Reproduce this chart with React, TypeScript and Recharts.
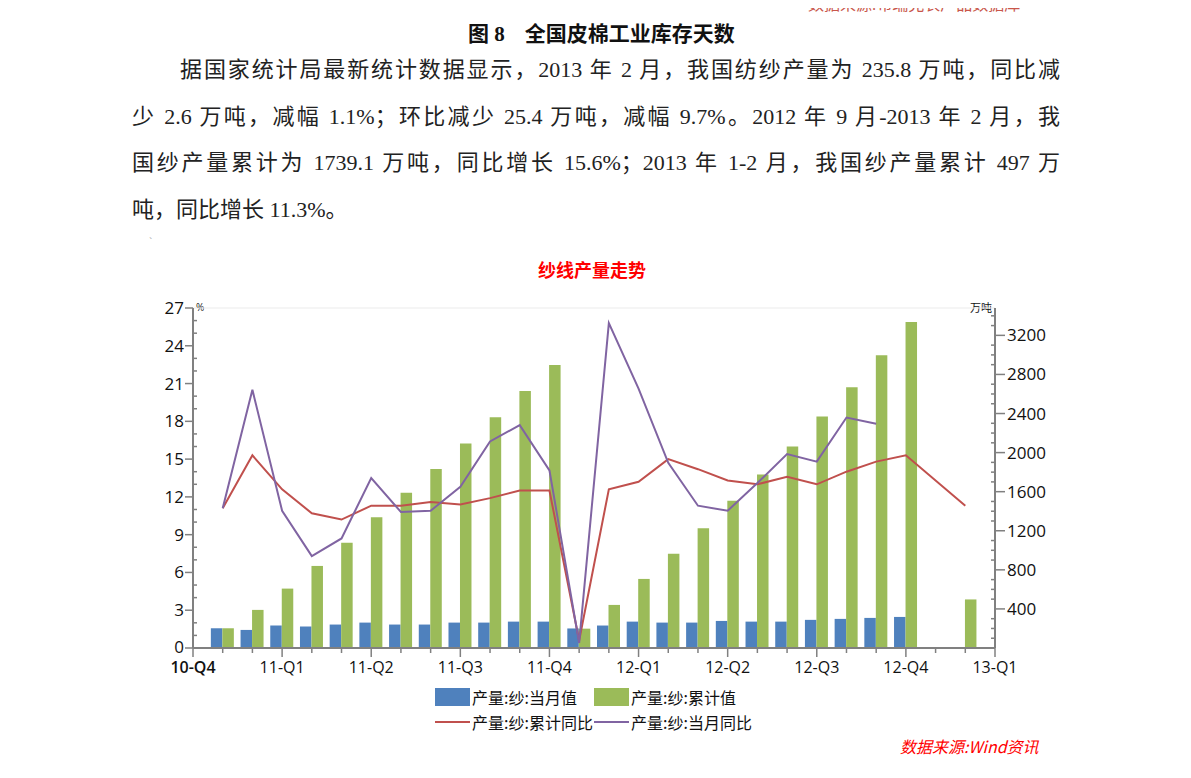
import React from 'react';
import { ComposedChart, Bar, Line, XAxis, YAxis, CartesianGrid } from 'recharts';

// month slots: 0 = 10-Q4 end, 27 = 13-Q1 end (Jan 2013 missing)
const monthSlot = [1, 2, 3, 4, 5, 6, 7, 8, 9, 10, 11, 12, 13, 14, 15, 16, 17, 18, 19, 20, 21, 22, 23, 24, 26];
const quarterLabels = ['10-Q4', '11-Q1', '11-Q2', '11-Q3', '11-Q4', '12-Q1', '12-Q2', '12-Q3', '12-Q4', '13-Q1'];

// 万吨
const monthlyOutput = [202, 185, 230, 220, 240, 260, 240, 240, 260, 260, 270, 270, 200, 230, 270, 260, 260, 277, 270, 270, 288, 298, 308, 318, null];
const cumulativeOutput = [202, 390, 608, 840, 1078, 1337, 1589, 1831, 2093, 2362, 2631, 2897, 198, 441, 707, 965, 1225, 1507, 1776, 2062, 2369, 2669, 2996, 3337, 497];
// %
const cumulativeYoY = [11.1, 15.3, 12.6, 10.7, 10.2, 11.3, 11.3, 11.6, 11.4, 11.9, 12.5, 12.5, 0.6, 12.6, 13.2, 15.0, 14.2, 13.3, 13.0, 13.6, 13.0, 14.0, 14.8, 15.3, 11.3];
const monthlyYoY = [11.1, 20.5, 10.9, 7.3, 8.7, 13.5, 10.8, 10.9, 12.8, 16.4, 17.7, 14.1, 0.4, 25.8, 20.6, 14.7, 11.3, 10.9, 13.1, 15.4, 14.8, 18.3, 17.8, null, null];

const xTicks = Array.from({ length: 28 }, (_, i) => i);
const leftTicks = Array.from({ length: 28 }, (_, i) => i);
const rightTicks = Array.from({ length: 35 }, (_, i) => i * 100);
const gridValues = [3, 6, 9, 12, 15, 18, 21, 24, 27];

const data = monthSlot.map((k, i) => ({
  k,
  month: monthlyOutput[i],
  cum: cumulativeOutput[i],
  cYoY: cumulativeYoY[i],
  mYoY: monthlyYoY[i],
}));

const BLUE = '#4f81bd';
const GREEN = '#9bbb59';
const RED = '#c0504d';
const PURPLE = '#8064a2';
const AXIS = '#808080';
const FONT = '"Open Sans", "Noto Sans CJK SC", sans-serif';

const XTick = (props: any) => {
  const { x, y, payload } = props;
  const v = payload.value;
  const major = v % 3 === 0;
  return (
    <g>
      <line x1={x} x2={x} y1={y} y2={y + (major ? 9 : 5)} stroke={AXIS} strokeWidth={1.5} />
      {major && (
        <text x={x} y={y + 25} textAnchor="middle" fontSize={16} fill="#111" fontFamily={FONT} fontWeight={v === 0 ? 600 : 400}>
          {quarterLabels[v / 3]}
        </text>
      )}
    </g>
  );
};

const LeftTick = (props: any) => {
  const { x, y, payload } = props;
  const v = payload.value;
  const major = v % 3 === 0;
  return (
    <g>
      {major ? (
        <line x1={x - 8} x2={x} y1={y} y2={y} stroke={AXIS} strokeWidth={1.5} />
      ) : (
        <line x1={x} x2={x + 4} y1={y} y2={y} stroke={AXIS} strokeWidth={1.5} />
      )}
      {major && (
        <text x={x - 9} y={y + (v === 0 ? 5 : 6)} textAnchor="end" fontSize={17} fill="#111" fontFamily={FONT}>
          {v}
        </text>
      )}
    </g>
  );
};

const RightTick = (props: any) => {
  const { x, y, payload } = props;
  const v = payload.value;
  const major = v % 400 === 0;
  if (v === 0) return <g />;
  return (
    <g>
      {major ? (
        <line x1={x} x2={x + 10} y1={y} y2={y} stroke={AXIS} strokeWidth={1.5} />
      ) : (
        <line x1={x - 4} x2={x} y1={y} y2={y} stroke={AXIS} strokeWidth={1.5} />
      )}
      {major && (
        <text x={x + 12} y={y + 6} textAnchor="start" fontSize={17} fill="#111" fontFamily={FONT}>
          {v}
        </text>
      )}
    </g>
  );
};

const bodyFont = '"Liberation Serif", "Noto Sans CJK SC", serif';
const paraLine: React.CSSProperties = {
  position: 'absolute',
  fontFamily: bodyFont,
  fontSize: 22,
  lineHeight: '30px',
  color: '#222',
  whiteSpace: 'nowrap',
};

export default function App() {
  return (
    <div style={{ position: 'relative', width: 1191, height: 778, margin: -8, overflow: 'hidden', background: '#fff' }}>
      <div style={{ position: 'absolute', left: 808, top: -9, fontFamily: FONT, fontSize: 16, color: '#c0392b', opacity: 0.85, whiteSpace: 'nowrap' }}>
        数据来源:布瑞克农产品数据库
      </div>
      <div style={{ position: 'absolute', left: 468, top: 17, fontFamily: bodyFont, fontSize: 21, fontWeight: 'bold', color: '#111', whiteSpace: 'nowrap' }}>
        <span>图 8</span>
        <span style={{ marginLeft: 20 }}>全国皮棉工业库存天数</span>
      </div>

      <div style={{ ...paraLine, left: 180, top: 55, width: 880, textAlignLast: 'justify' }}>
        据国家统计局最新统计数据显示，2013 年 2 月，我国纺纱产量为 235.8 万吨，同比减
      </div>
      <div style={{ ...paraLine, left: 132, top: 102, width: 928, textAlignLast: 'justify' }}>
        少 2.6 万吨，减幅 1.1%；环比减少 25.4 万吨，减幅 9.7%。2012 年 9 月-2013 年 2 月，我
      </div>
      <div style={{ ...paraLine, left: 132, top: 148, width: 928, textAlignLast: 'justify' }}>
        国纱产量累计为 1739.1 万吨，同比增长 15.6%；2013 年 1-2 月，我国纱产量累计 497 万
      </div>
      <div style={{ ...paraLine, left: 132, top: 195 }}>吨，同比增长 11.3%。</div>
      <div style={{ position: 'absolute', left: 149, top: 236, fontSize: 10, color: '#999' }}>`</div>

      <div style={{ position: 'absolute', left: 538, top: 256, fontFamily: '"Noto Sans CJK SC", sans-serif', fontSize: 18, fontWeight: 'bold', color: '#ff0000' }}>
        纱线产量走势
      </div>
      <div style={{ position: 'absolute', left: 196, top: 300, fontFamily: FONT, fontSize: 10, color: '#111' }}>%</div>
      <div style={{ position: 'absolute', left: 970, top: 299, fontFamily: '"Noto Sans CJK SC", sans-serif', fontSize: 11, color: '#111' }}>万吨</div>

      <div style={{ position: 'absolute', left: 150, top: 290 }}>
        <ComposedChart width={900} height={400} data={data} margin={{ top: 18, right: 5, left: 3, bottom: 12 }} barGap={0}>
          <CartesianGrid vertical={false} stroke="#ebebeb" yAxisId="grid" />
          <XAxis
            dataKey="k"
            type="number"
            domain={[0, 27]}
            ticks={xTicks}
            interval={0}
            height={30}
            tickSize={0}
            tickMargin={0}
            tickLine={false}
            tick={<XTick />}
            axisLine={{ stroke: AXIS, strokeWidth: 2 }}
          />
          <YAxis
            yAxisId="left"
            orientation="left"
            domain={[0, 27]}
            ticks={leftTicks}
            interval={0}
            width={40}
            tickSize={0}
            tickMargin={0}
            tickLine={false}
            tick={<LeftTick />}
            axisLine={{ stroke: AXIS, strokeWidth: 2 }}
          />
          <YAxis yAxisId="grid" orientation="left" domain={[0, 27]} ticks={gridValues} interval={0} width={0} hide />
          <YAxis
            yAxisId="right"
            orientation="right"
            domain={[0, 3480]}
            ticks={rightTicks}
            interval={0}
            width={50}
            tickSize={0}
            tickMargin={0}
            tickLine={false}
            tick={<RightTick />}
            axisLine={{ stroke: AXIS, strokeWidth: 2 }}
          />
          <Bar yAxisId="right" dataKey="month" fill={BLUE} barSize={11.5} isAnimationActive={false} />
          <Bar yAxisId="right" dataKey="cum" fill={GREEN} barSize={11.5} isAnimationActive={false} />
          <Line yAxisId="left" dataKey="cYoY" stroke={RED} strokeWidth={2} dot={false} type="linear" isAnimationActive={false} />
          <Line yAxisId="left" dataKey="mYoY" stroke={PURPLE} strokeWidth={2} dot={false} type="linear" isAnimationActive={false} />
        </ComposedChart>
      </div>

      <div style={{ position: 'absolute', left: 435, top: 680, fontFamily: '"Noto Sans CJK SC", sans-serif', fontSize: 16, color: '#111' }}>
        <div style={{ position: 'absolute', left: 0, top: 8, width: 35, height: 18, background: BLUE }} />
        <div style={{ position: 'absolute', left: 37, top: 5, whiteSpace: 'nowrap' }}>产量:纱:当月值</div>
        <div style={{ position: 'absolute', left: 159, top: 8, width: 35, height: 18, background: GREEN }} />
        <div style={{ position: 'absolute', left: 196, top: 5, whiteSpace: 'nowrap' }}>产量:纱:累计值</div>
        <div style={{ position: 'absolute', left: 0, top: 41, width: 35, height: 2, background: RED }} />
        <div style={{ position: 'absolute', left: 37, top: 30, whiteSpace: 'nowrap' }}>产量:纱:累计同比</div>
        <div style={{ position: 'absolute', left: 159, top: 41, width: 35, height: 2, background: PURPLE }} />
        <div style={{ position: 'absolute', left: 196, top: 30, whiteSpace: 'nowrap' }}>产量:纱:当月同比</div>
      </div>

      <div style={{ position: 'absolute', left: 900, top: 734, fontFamily: '"Noto Sans CJK SC", sans-serif', fontSize: 16, fontStyle: 'italic', color: '#ff0000', whiteSpace: 'nowrap' }}>
        数据来源:Wind资讯
      </div>
    </div>
  );
}
